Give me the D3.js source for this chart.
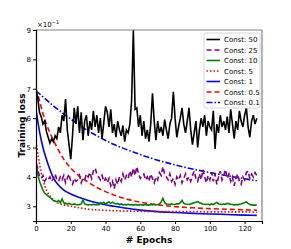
<!DOCTYPE html>
<html>
<head>
<meta charset="utf-8">
<script src="https://cdn.jsdelivr.net/npm/d3@7"></script>
<style>
  body { margin: 0; background: #fff; }
  text { font-family: "DejaVu Sans", sans-serif; }
</style>
</head>
<body>
<div id="chart-area"></div>
<script>
// noisy runs, one value per epoch (0..127)
var const50 = [6.95,6.7,6.2,6.05,5.8,5.9,5.55,5.35,5.15,5.3,5.2,5.4,5.3,5.7,5.5,6.1,5.9,6.65,5.6,5.1,
  4.6,5.4,6.35,5.8,6.4,5.5,6.2,5.25,5.9,6.1,5.4,5.9,5.6,6.25,5.7,6.1,5.5,6.0,5.3,5.85,
  6.4,6.2,5.7,6.3,5.5,5.8,5.35,5.9,5.6,5.4,5.75,5.2,5.6,5.5,5.8,6.6,9.0,6.3,6.35,5.7,
  6.1,5.4,5.9,5.3,5.6,5.2,5.8,6.85,5.9,5.25,5.9,5.5,5.7,5.4,5.95,5.6,5.3,5.8,6.0,6.9,
  6.0,5.35,5.7,6.0,6.35,5.8,5.5,5.9,6.35,5.6,5.1,5.5,5.9,5.0,5.6,6.0,5.7,6.1,5.4,5.9,
  5.7,5.6,6.25,4.95,5.8,5.5,6.1,5.7,5.9,5.6,6.05,5.5,6.3,5.8,5.3,5.9,5.6,6.25,5.9,5.7,
  6.1,6.35,5.7,5.35,5.9,6.1,5.8,6.0];
var const25 = [4.45,4.3,4.0,3.95,4.05,3.85,3.95,3.9,4.0,3.85,3.95,4.1,3.9,3.85,4.0,3.9,4.05,3.8,3.95,4.1,
  3.85,3.75,3.95,3.85,3.9,4.05,3.8,3.95,3.9,4.1,4.0,4.15,3.95,4.2,4.3,4.1,4.0,3.9,4.05,3.85,
  3.95,3.8,3.95,3.7,3.85,3.6,3.9,3.75,4.0,3.85,4.1,3.9,4.05,3.95,4.2,4.0,4.3,4.05,4.35,4.1,
  3.95,4.05,4.1,3.9,4.0,3.85,4.1,3.95,3.8,4.0,3.9,4.15,4.05,4.35,4.1,4.0,3.9,4.1,3.85,3.95,
  3.75,4.0,3.9,4.05,3.8,3.95,4.1,3.9,4.0,3.85,4.05,4.2,3.95,3.85,4.1,3.9,4.25,4.0,3.8,4.05,
  3.9,4.15,3.85,4.1,3.75,4.0,4.2,3.9,4.05,4.25,3.95,4.1,3.85,4.0,3.7,3.95,4.1,3.85,3.75,4.0,
  3.9,4.15,4.2,3.95,4.1,4.0,4.15,4.05];
var const10 = [4.55,4.1,3.85,3.7,3.55,3.45,3.4,3.35,3.3,3.25,3.2,3.18,3.15,3.2,3.12,3.25,3.12,3.1,3.08,3.1,
  3.07,3.06,3.08,3.06,3.05,3.06,3.08,3.22,3.08,3.06,3.05,3.06,3.05,3.07,3.05,3.06,3.05,3.12,3.1,3.14,
  3.08,3.12,3.15,3.1,3.14,3.1,3.08,3.1,3.06,3.08,3.05,3.06,3.05,3.07,3.05,3.06,3.04,3.06,3.05,3.04,
  3.06,3.05,3.04,3.06,3.05,3.04,3.06,3.05,3.07,3.05,3.06,3.08,3.15,3.27,3.12,3.08,3.07,3.06,3.08,3.06,
  3.07,3.09,3.08,3.12,3.2,3.1,3.08,3.07,3.06,3.08,3.1,3.12,3.14,3.16,3.12,3.1,3.08,3.07,3.06,3.07,
  3.05,3.08,3.06,3.1,3.13,3.08,3.07,3.06,3.08,3.07,3.1,3.09,3.07,3.06,3.05,3.06,3.05,3.07,3.08,3.1,
  3.13,3.15,3.1,3.06,3.05,3.04,3.04,3.05];

// smooth runs, sampled at these epochs
var smoothEpochs = [0,2,4,6,8,10,13,16,20,25,30,35,40,45,50,60,70,80,90,100,110,120,127];
var const5  = [5.2,4.45,3.9,3.55,3.35,3.22,3.1,3.05,3.0,2.95,2.9,2.88,2.86,2.85,2.84,2.83,2.82,2.82,2.82,2.81,2.81,2.81,2.8];
var const1  = [6.3,5.55,5.0,4.6,4.25,3.97,3.72,3.55,3.42,3.3,3.2,3.12,3.05,3.0,2.95,2.87,2.82,2.79,2.76,2.74,2.72,2.70,2.69];
var const05 = [7.0,6.6,6.15,5.8,5.5,5.25,4.9,4.6,4.3,4.03,3.82,3.64,3.5,3.38,3.28,3.14,3.05,2.99,2.95,2.92,2.9,2.88,2.87];
var const01 = [6.93,6.83,6.72,6.62,6.52,6.42,6.28,6.14,5.97,5.76,5.57,5.4,5.24,5.1,4.98,4.76,4.57,4.41,4.27,4.15,4.04,3.94,3.87];

var xTicks = [0,20,40,60,80,100,120];
var yTicks = [3,4,5,6,7,8,9];
var labels = ["Const: 50","Const: 25","Const: 10","Const: 5","Const: 1","Const: 0.5","Const: 0.1"];

var margin = {top: 30, right: 29, bottom: 28, left: 36};
var W = 291, H = 249;
var width = W - margin.left - margin.right,
    height = H - margin.top - margin.bottom;

var svg = d3.select("#chart-area").append("svg")
  .attr("width", W).attr("height", H);
var g = svg.append("g")
  .attr("transform", "translate(" + margin.left + "," + margin.top + ")");

var x = d3.scaleLinear().domain([0, 130]).range([0, width]);
var y = d3.scaleLinear().domain([2.5, 9]).range([height, 0]);

var perEpoch = function(arr) { return arr.map(function(v, i) { return [i, v]; }); };
var sampled = function(arr) { return arr.map(function(v, i) { return [smoothEpochs[i], v]; }); };

var series = [
  {name: labels[0], pts: perEpoch(const50), color: "#000000", dash: null, curve: d3.curveLinear},
  {name: labels[1], pts: perEpoch(const25), color: "#800080", dash: "5,3", curve: d3.curveLinear},
  {name: labels[2], pts: perEpoch(const10), color: "#008000", dash: null, curve: d3.curveLinear},
  {name: labels[3], pts: sampled(const5), color: "#ff0000", dash: "1.5,2", curve: d3.curveMonotoneX},
  {name: labels[4], pts: sampled(const1), color: "#0000ff", dash: null, curve: d3.curveMonotoneX},
  {name: labels[5], pts: sampled(const05), color: "#ff0000", dash: "5,3", curve: d3.curveMonotoneX},
  {name: labels[6], pts: sampled(const01), color: "#0000ff", dash: "6,2,1.5,2", curve: d3.curveMonotoneX}
];

// clip to plot area (spike reaches the top)
svg.append("defs").append("clipPath").attr("id", "clip")
  .append("rect").attr("width", width).attr("height", height);

var plot = g.append("g").attr("clip-path", "url(#clip)");
// draw in reverse so black ends on top
series.slice().reverse().forEach(function(s) {
  var line = d3.line().x(function(d) { return x(d[0]); }).y(function(d) { return y(d[1]); }).curve(s.curve);
  plot.append("path")
    .datum(s.pts)
    .attr("fill", "none")
    .attr("stroke", s.color)
    .attr("stroke-width", 1.6)
    .attr("stroke-dasharray", s.dash)
    .attr("d", line);
});

// frame: top/right grey
g.append("line").attr("x1", 0).attr("x2", width).attr("y1", 0).attr("y2", 0)
  .attr("stroke", "#808080").attr("stroke-width", 1.2);
g.append("line").attr("x1", width).attr("x2", width).attr("y1", 0).attr("y2", height)
  .attr("stroke", "#808080").attr("stroke-width", 1.2);

var xAxis = g.append("g").attr("transform", "translate(0," + height + ")")
  .call(d3.axisBottom(x).tickValues(xTicks).tickSize(3).tickPadding(2).tickFormat(d3.format("d")));
var yAxis = g.append("g")
  .call(d3.axisLeft(y).tickValues(yTicks).tickSize(3).tickPadding(2).tickFormat(d3.format("d")));
[xAxis, yAxis].forEach(function(a) {
  a.select(".domain").attr("stroke", "#000").attr("stroke-width", 1.2);
  a.selectAll("text").attr("font-size", "7px").attr("fill", "#000")
    .style("font-family", "'DejaVu Sans', sans-serif");
});

// exponent label
g.append("text").attr("x", 1).attr("y", -3).attr("font-size", "7px").text("×10")
  .append("tspan").attr("dy", -3).attr("font-size", "5px").text("−1");

// axis labels
g.append("text")
  .attr("x", width / 2).attr("y", height + 22)
  .attr("text-anchor", "middle").attr("font-size", "9px").attr("font-weight", "bold")
  .text("# Epochs");
g.append("text")
  .attr("transform", "rotate(-90)")
  .attr("x", -height / 2).attr("y", -11)
  .attr("text-anchor", "middle").attr("font-size", "9px").attr("font-weight", "bold")
  .text("Training loss");

// legend
var lg = g.append("g").attr("transform", "translate(" + (width - 58) + ",3)");
lg.append("rect").attr("width", 56).attr("height", 75).attr("rx", 2)
  .attr("fill", "#fff").attr("stroke", "#cccccc").attr("stroke-width", 0.8);
series.forEach(function(s, i) {
  var yy = 6.5 + i * 10.5;
  lg.append("line").attr("x1", 2.5).attr("x2", 16).attr("y1", yy).attr("y2", yy)
    .attr("stroke", s.color).attr("stroke-width", 1.6).attr("stroke-dasharray", s.dash);
  lg.append("text").attr("x", 20).attr("y", yy + 2.5).attr("font-size", "7px").text(s.name);
});
</script>
</body>
</html>
